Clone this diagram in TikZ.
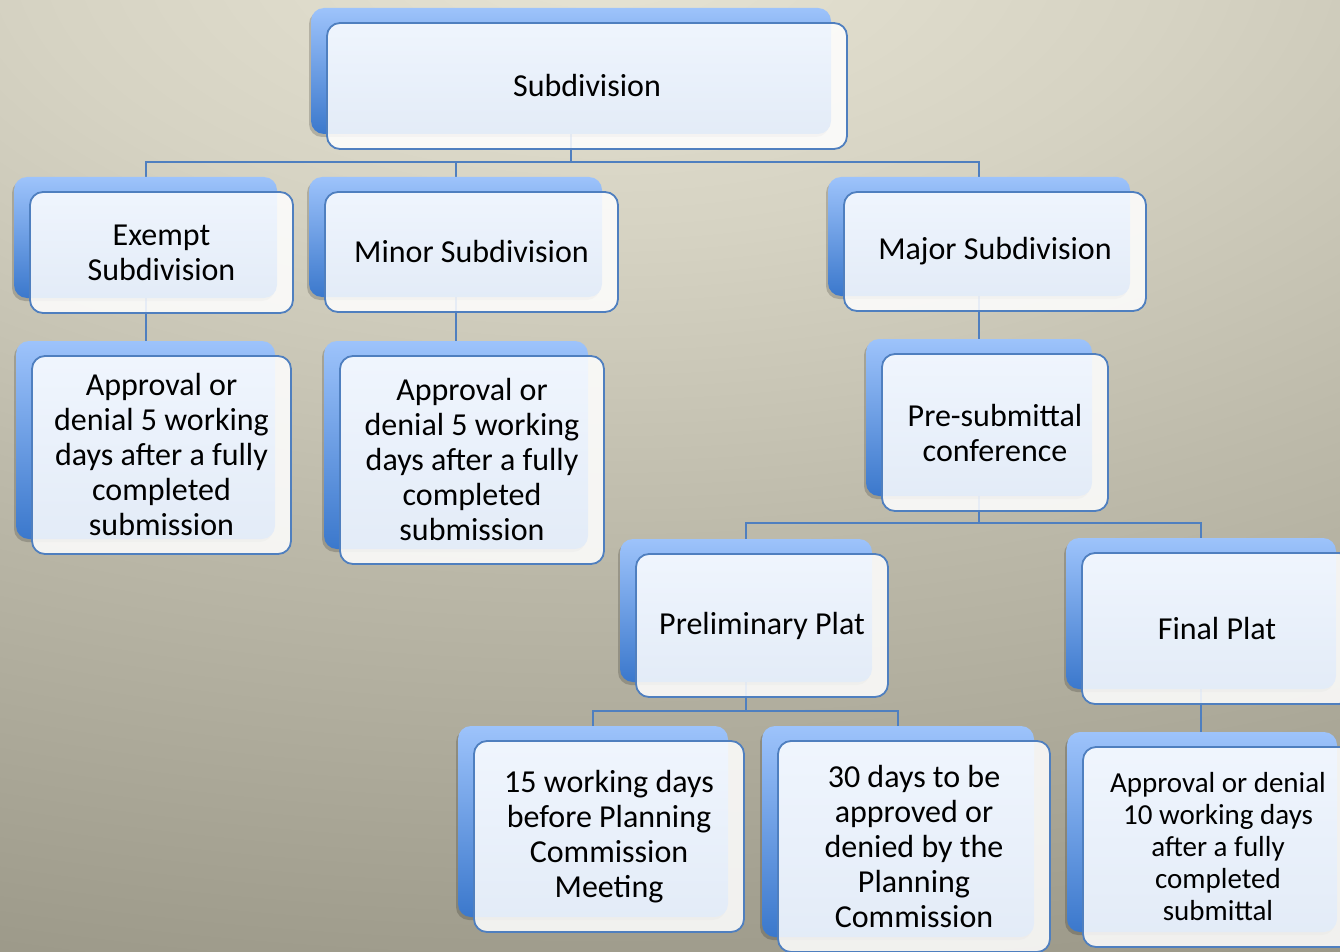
\documentclass[tikz,border=0pt]{standalone}
\usepackage{fontspec}
\setmainfont{Carlito}
\usetikzlibrary{shadows}

% palette
\definecolor{bgA}{HTML}{E7E4D4}
\definecolor{bgB}{HTML}{D6D3C3}
\definecolor{bgC}{HTML}{BDBAAA}
\definecolor{bgD}{HTML}{A8A595}
\definecolor{bgE}{HTML}{939080}
\definecolor{tabtop}{HTML}{9DC3FB}
\definecolor{tabbot}{HTML}{3B78CC}
\definecolor{frame}{HTML}{4F7FBF}

% soft warm backdrop glow (stretched into a wide ellipse below)
\pgfdeclareradialshading{backglow}{\pgfpoint{0bp}{0bp}}{%
  color(0bp)=(bgA); color(6bp)=(bgB); color(12.5bp)=(bgC);
  color(18.75bp)=(bgD); color(25bp)=(bgE); color(50bp)=(bgE)}

\pgfdeclarelayer{bg}
\pgfdeclarelayer{lines}
\pgfsetlayers{bg,lines,main}

\tikzset{
  backbox/.style={rectangle, rounded corners=13pt, inner sep=0pt, draw=none,
    top color=tabtop, bottom color=tabbot,
    drop shadow={shadow xshift=-2pt, shadow yshift=-3pt, fill=black, opacity=.18}},
  frontbox/.style={rectangle, rounded corners=13pt, inner sep=2pt,
    draw=frame, line width=1.8pt, fill=white, fill opacity=.86, text opacity=1,
    align=center, text=black, font=\fontsize{32}{35}\selectfont},
  conn/.style={draw=frame, line width=2pt},
}

% one chart entry: blue tab behind, translucent card with text in front
% #1 extra card options, #2 name, #3..#6 tab corners (x1,y1,x2,y2), #7 text
\newcommand\chartentry[7][]{%
  \node[backbox, minimum width={#5-#3}, minimum height={#6-#4}]
    (#2) at ({(#3+#5)/2},{(#4+#6)/2}) {};
  \node[frontbox, minimum width={#5-#3}, minimum height={#6-#4}, #1]
    (#2T) at ({(#3+#5)/2+16},{(#4+#6)/2+15}) {#7};
}

\begin{document}
\begin{tikzpicture}[x=1pt,y=-1pt]
\useasboundingbox (0,0) rectangle (1340,952);

\begin{pgfonlayer}{bg}
  \begin{scope}
    \clip (0,0) rectangle (1340,952);
    \shade[shading=backglow] (600,-50) ellipse [x radius=2400, y radius=1180];
  \end{scope}
\end{pgfonlayer}

% entries
\chartentry{sub}{311}{8}{831}{134}{Subdivision}
\chartentry{ex}{14}{177}{277}{298}{Exempt\\Subdivision}
\chartentry{mi}{309}{177}{602}{297}{Minor Subdivision}
\chartentry{ma}{828}{177}{1130}{296}{Major Subdivision}
\chartentry{exa}{16}{341}{275}{539}{Approval or\\denial 5 working\\days after a fully\\completed\\submission}
\chartentry{mia}{324}{341}{588}{549}{Approval or\\denial 5 working\\days after a fully\\completed\\submission}
\chartentry{pre}{866}{339}{1092}{496}{Pre-submittal\\conference}
\chartentry{pp}{620}{539}{872}{682}{Preliminary Plat}
\chartentry{fp}{1066}{538}{1336}{689}{Final Plat}
\chartentry{d15}{458}{726}{728}{917}{15 working days\\before Planning\\Commission\\Meeting}
\chartentry{d30}{762}{726}{1034}{937}{30 days to be\\approved or\\denied by the\\Planning\\Commission}
\chartentry[font=\fontsize{29}{32}\selectfont]{fpa}{1067}{732}{1337}{932}{Approval or denial\\10 working days\\after a fully\\completed\\submittal}

% connectors between tabs
\begin{pgfonlayer}{lines}
  \draw[conn] (sub.south) -- ++(0,28) -| (ex.north);
  \draw[conn] (sub.south) -- ++(0,28) -| (mi.north);
  \draw[conn] (sub.south) -- ++(0,28) -| (ma.north);
  \draw[conn] (ex.south) -- (ex.south |- exa.north);
  \draw[conn] (mi.south) -- (mi.south |- mia.north);
  \draw[conn] (ma.south) -- (ma.south |- pre.north);
  \draw[conn] (pre.south) -- ++(0,27) -| (pp.north);
  \draw[conn] (pre.south) -- ++(0,27) -| (fp.north);
  \draw[conn] (pp.south) -- ++(0,29) -| (d15.north);
  \draw[conn] (pp.south) -- ++(0,29) -| (d30.north);
  \draw[conn] (fp.south) -- (fp.south |- fpa.north);
\end{pgfonlayer}
\end{tikzpicture}
\end{document}
